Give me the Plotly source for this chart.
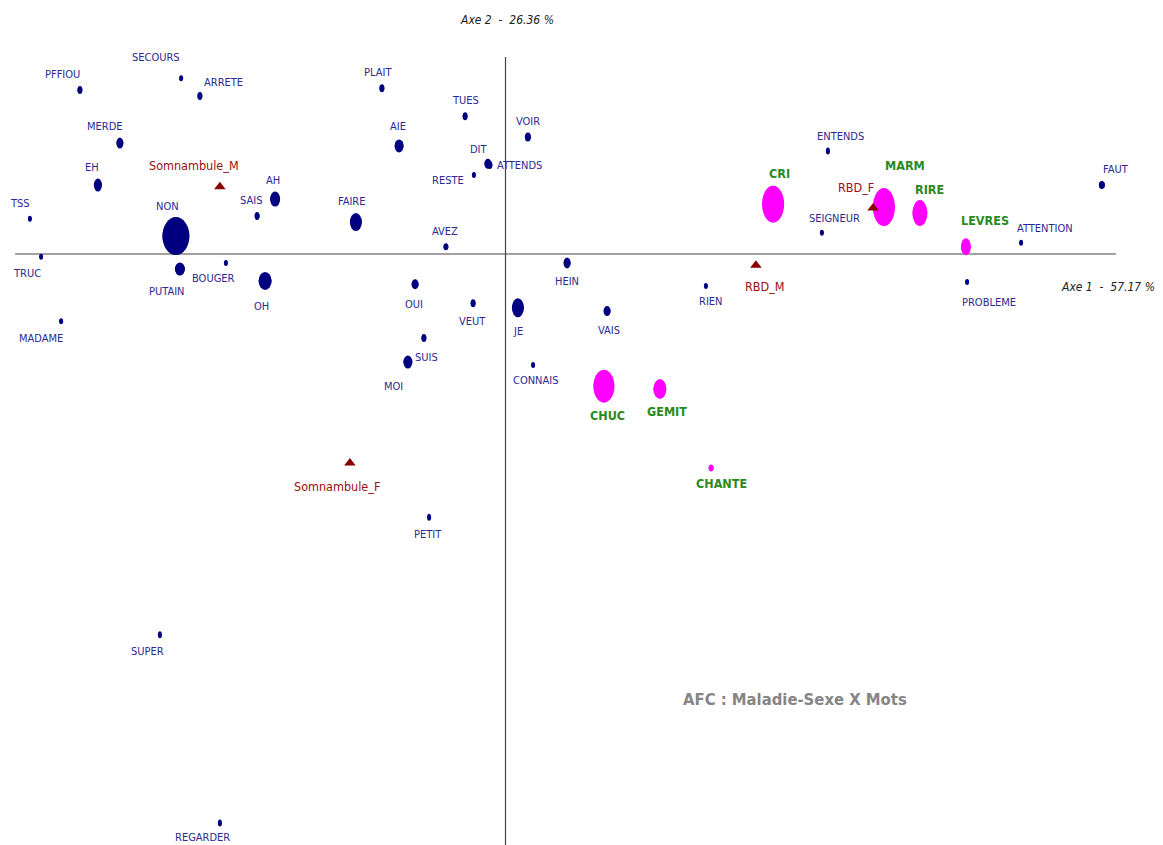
import plotly.graph_objects as go

# --- Coordonnées factorielles (axe 1, axe 2) ---------------------------------
# Mots (points-lignes)
mots = ["PFFIOU", "SECOURS", "ARRETE", "MERDE", "EH", "AH", "SAIS", "TSS", "NON",
        "FAIRE", "PLAIT", "TRUC", "PUTAIN", "BOUGER", "OH", "AIE", "TUES", "VOIR",
        "DIT", "ATTENDS", "RESTE", "AVEZ", "HEIN", "OUI", "VEUT", "JE", "VAIS",
        "RIEN", "SUIS", "MOI", "CONNAIS", "PETIT", "MADAME", "ENTENDS", "SEIGNEUR",
        "ATTENTION", "FAUT", "PROBLEME", "SUPER", "REGARDER"]
mots_ax1 = [-1.064, -0.811, -0.764, -0.964, -1.019, -0.576, -0.621, -1.189, -0.824,
            -0.374, -0.309, -1.161, -0.814, -0.699, -0.601, -0.266, -0.101, 0.056,
            -0.044, -0.039, -0.079, -0.149, 0.154, -0.226, -0.081, 0.031, 0.254,
            0.501, -0.204, -0.244, 0.069, -0.191, -1.111, 0.806, 0.791,
            1.289, 1.491, 1.154, -0.864, -0.714]
mots_ax2 = [0.293, 0.314, 0.282, 0.198, 0.123, 0.098, 0.068, 0.063, 0.032,
            0.057, 0.296, -0.005, -0.027, -0.016, -0.048, 0.193, 0.246, 0.209,
            0.161, 0.159, 0.141, 0.013, -0.016, -0.054, -0.088, -0.096, -0.102,
            -0.057, -0.150, -0.193, -0.198, -0.470, -0.120, 0.184, 0.038,
            0.020, 0.123, -0.050, -0.680, -1.016]

# Bruits (vocalisations)
bruits = ["CRI", "MARM", "RIRE", "LEVRES", "CHUC", "GEMIT", "CHANTE"]
bruits_ax1 = [0.669, 0.946, 1.036, 1.151, 0.246, 0.386, 0.514]
bruits_ax2 = [0.089, 0.084, 0.073, 0.013, -0.236, -0.241, -0.382]

# Modalités Maladie-Sexe (points-colonnes)
groupes = ["Somnambule_M", "Somnambule_F", "RBD_M", "RBD_F"]
groupes_ax1 = [-0.714, -0.389, 0.626, 0.919]
groupes_ax2 = [0.120, -0.373, -0.020, 0.082]

titre = "AFC : Maladie-Sexe X Mots"
axe1_label = "Axe 1  -  57.17 %"
axe2_label = "Axe 2  -  26.36 %"

# --- Styles -----------------------------------------------------------------
NAVY = "#000080"
MAGENTA = "#ff00ff"
DARKRED = "#8b0000"
TXT_BLUE = "#2a2a90"
TXT_GREEN = "#2a8a1e"
TXT_RED = "#9a1010"
FONT = "Liberation Sans Narrow, Arial Narrow, DejaVu Sans Condensed, sans-serif"

# taille des ellipses (largeur, hauteur) en pixels
taille_mots = {
    "PFFIOU": (5, 8), "SECOURS": (4, 6), "ARRETE": (5, 8), "MERDE": (7, 11),
    "EH": (8, 13), "AH": (10, 15), "SAIS": (5, 8), "TSS": (4, 6), "NON": (27, 38),
    "FAIRE": (12, 18), "PLAIT": (5, 8), "TRUC": (4, 6), "PUTAIN": (10, 13),
    "BOUGER": (4, 6), "OH": (13, 18), "AIE": (9, 13), "TUES": (5, 8), "VOIR": (6, 9),
    "DIT": (7, 10), "ATTENDS": (5, 8), "RESTE": (4, 6), "AVEZ": (5, 7),
    "HEIN": (7, 11), "OUI": (7, 10), "VEUT": (5, 8), "JE": (12, 19), "VAIS": (7, 10),
    "RIEN": (4, 6), "SUIS": (5, 8), "MOI": (9, 13), "CONNAIS": (4, 6), "PETIT": (4, 7),
    "MADAME": (4, 6), "ENTENDS": (4, 7), "SEIGNEUR": (4, 6), "ATTENTION": (4, 6),
    "FAUT": (6, 8), "PROBLEME": (4, 6), "SUPER": (4, 7), "REGARDER": (4, 7),
}
taille_bruits = {
    "CRI": (22, 37), "MARM": (22, 38), "RIRE": (15, 26), "LEVRES": (10, 17),
    "CHUC": (21, 33), "GEMIT": (13, 20), "CHANTE": (5, 7),
}

# décalage des étiquettes (dx, dy) en pixels, dy vers le bas
decal = {
    "PFFIOU": (-17, -15), "SECOURS": (-25, -21), "ARRETE": (24, -14),
    "MERDE": (-15, -17), "EH": (-6, -18), "AH": (-2, -19), "SAIS": (-6, -15),
    "TSS": (-10, -15), "NON": (-8, -30), "FAIRE": (-4, -21), "PLAIT": (-4, -16),
    "TRUC": (-14, 17), "PUTAIN": (-13, 22), "BOUGER": (-12, 16), "OH": (-4, 26),
    "AIE": (-1, -19), "TUES": (0, -16), "VOIR": (0, -15), "DIT": (-9, -14),
    "ATTENDS": (30, 1), "RESTE": (-26, 5), "AVEZ": (-1, -15), "HEIN": (0, 19),
    "OUI": (-1, 20), "VEUT": (-1, 18), "JE": (0, 24), "VAIS": (2, 19),
    "RIEN": (5, 16), "SUIS": (3, 19), "MOI": (-14, 24), "CONNAIS": (2, 16),
    "PETIT": (-1, 17), "MADAME": (-20, 17), "ENTENDS": (13, -14),
    "SEIGNEUR": (13, -14), "ATTENTION": (24, -14), "FAUT": (14, -16),
    "PROBLEME": (22, 20), "SUPER": (-12, 17), "REGARDER": (-17, 15),
    "CRI": (6, -31), "MARM": (21, -41), "RIRE": (10, -24), "LEVRES": (19, -26),
    "CHUC": (4, 29), "GEMIT": (7, 23), "CHANTE": (10, 16),
    "Somnambule_M": (-26, -21), "Somnambule_F": (-13, 24),
    "RBD_M": (9, 21), "RBD_F": (-17, -21),
}

fig = go.Figure()
shapes = []
annotations = []


def ellipses(noms, xs, ys, tailles, couleur):
    for n, x, y in zip(noms, xs, ys):
        w, h = tailles[n]
        shapes.append(dict(
            type="circle", xref="x", yref="y",
            xsizemode="pixel", ysizemode="pixel",
            xanchor=x, yanchor=y,
            x0=-w / 2, x1=w / 2, y0=-h / 2, y1=h / 2,
            fillcolor=couleur, line=dict(width=0), layer="below",
        ))


def etiquettes(noms, xs, ys, couleur, taille, gras=False):
    for n, x, y in zip(noms, xs, ys):
        dx, dy = decal[n]
        annotations.append(dict(
            x=x, y=y, xref="x", yref="y", text=f"<b>{n}</b>" if gras else n,
            showarrow=False, xshift=dx, yshift=-dy,
            font=dict(family=FONT, size=taille, color=couleur),
        ))


# axes factoriels
shapes.append(dict(type="line", xref="x", yref="y", x0=-1.226, x1=1.526, y0=0, y1=0,
                   line=dict(color="#444444", width=1.2), layer="below"))
shapes.append(dict(type="line", xref="x", yref="y", x0=0, x1=0, y0=0.352, y1=-1.1,
                   line=dict(color="#444444", width=1.2), layer="below"))

# points
ellipses(mots, mots_ax1, mots_ax2, taille_mots, NAVY)
ellipses(bruits, bruits_ax1, bruits_ax2, taille_bruits, MAGENTA)
fig.add_trace(go.Scatter(
    x=mots_ax1, y=mots_ax2, mode="markers", name="Mots", hovertext=mots,
    marker=dict(color=NAVY, size=[taille_mots[m][0] for m in mots], line=dict(width=0)),
))
fig.add_trace(go.Scatter(
    x=bruits_ax1, y=bruits_ax2, mode="markers", name="Bruits", hovertext=bruits,
    marker=dict(color=MAGENTA, size=[taille_bruits[b][0] for b in bruits], line=dict(width=0)),
))
fig.add_trace(go.Scatter(
    x=groupes_ax1, y=groupes_ax2, mode="markers", name="Maladie-Sexe", hovertext=groupes,
    marker=dict(color=DARKRED, symbol="triangle-up", size=10, line=dict(width=0)),
))

etiquettes(mots, mots_ax1, mots_ax2, TXT_BLUE, 11)
etiquettes(bruits, bruits_ax1, bruits_ax2, TXT_GREEN, 12.5, gras=True)
etiquettes(groupes, groupes_ax1, groupes_ax2, TXT_RED, 12.5)

# intitulés des axes et titre
annotations.append(dict(x=1.506, y=-0.059, xref="x", yref="y", text=f"<i>{axe1_label}</i>",
                        showarrow=False, font=dict(family=FONT, size=12, color="#222222")))
annotations.append(dict(x=0.004, y=0.418, xref="x", yref="y", text=f"<i>{axe2_label}</i>",
                        showarrow=False, font=dict(family=FONT, size=12, color="#222222")))
annotations.append(dict(x=0.724, y=-0.795, xref="x", yref="y", text=f"<b>{titre}</b>",
                        showarrow=False, font=dict(family=FONT, size=16.5, color="#858585")))

fig.update_layout(
    width=1163, height=845,
    margin=dict(l=0, r=0, t=0, b=0),
    paper_bgcolor="white", plot_bgcolor="white",
    showlegend=False,
    shapes=shapes, annotations=annotations,
    xaxis=dict(range=[-1.26375, 1.64375], visible=False, fixedrange=True),
    yaxis=dict(range=[-1.05536, 0.45357], visible=False, fixedrange=True),
)

fig.write_html("out.html")
